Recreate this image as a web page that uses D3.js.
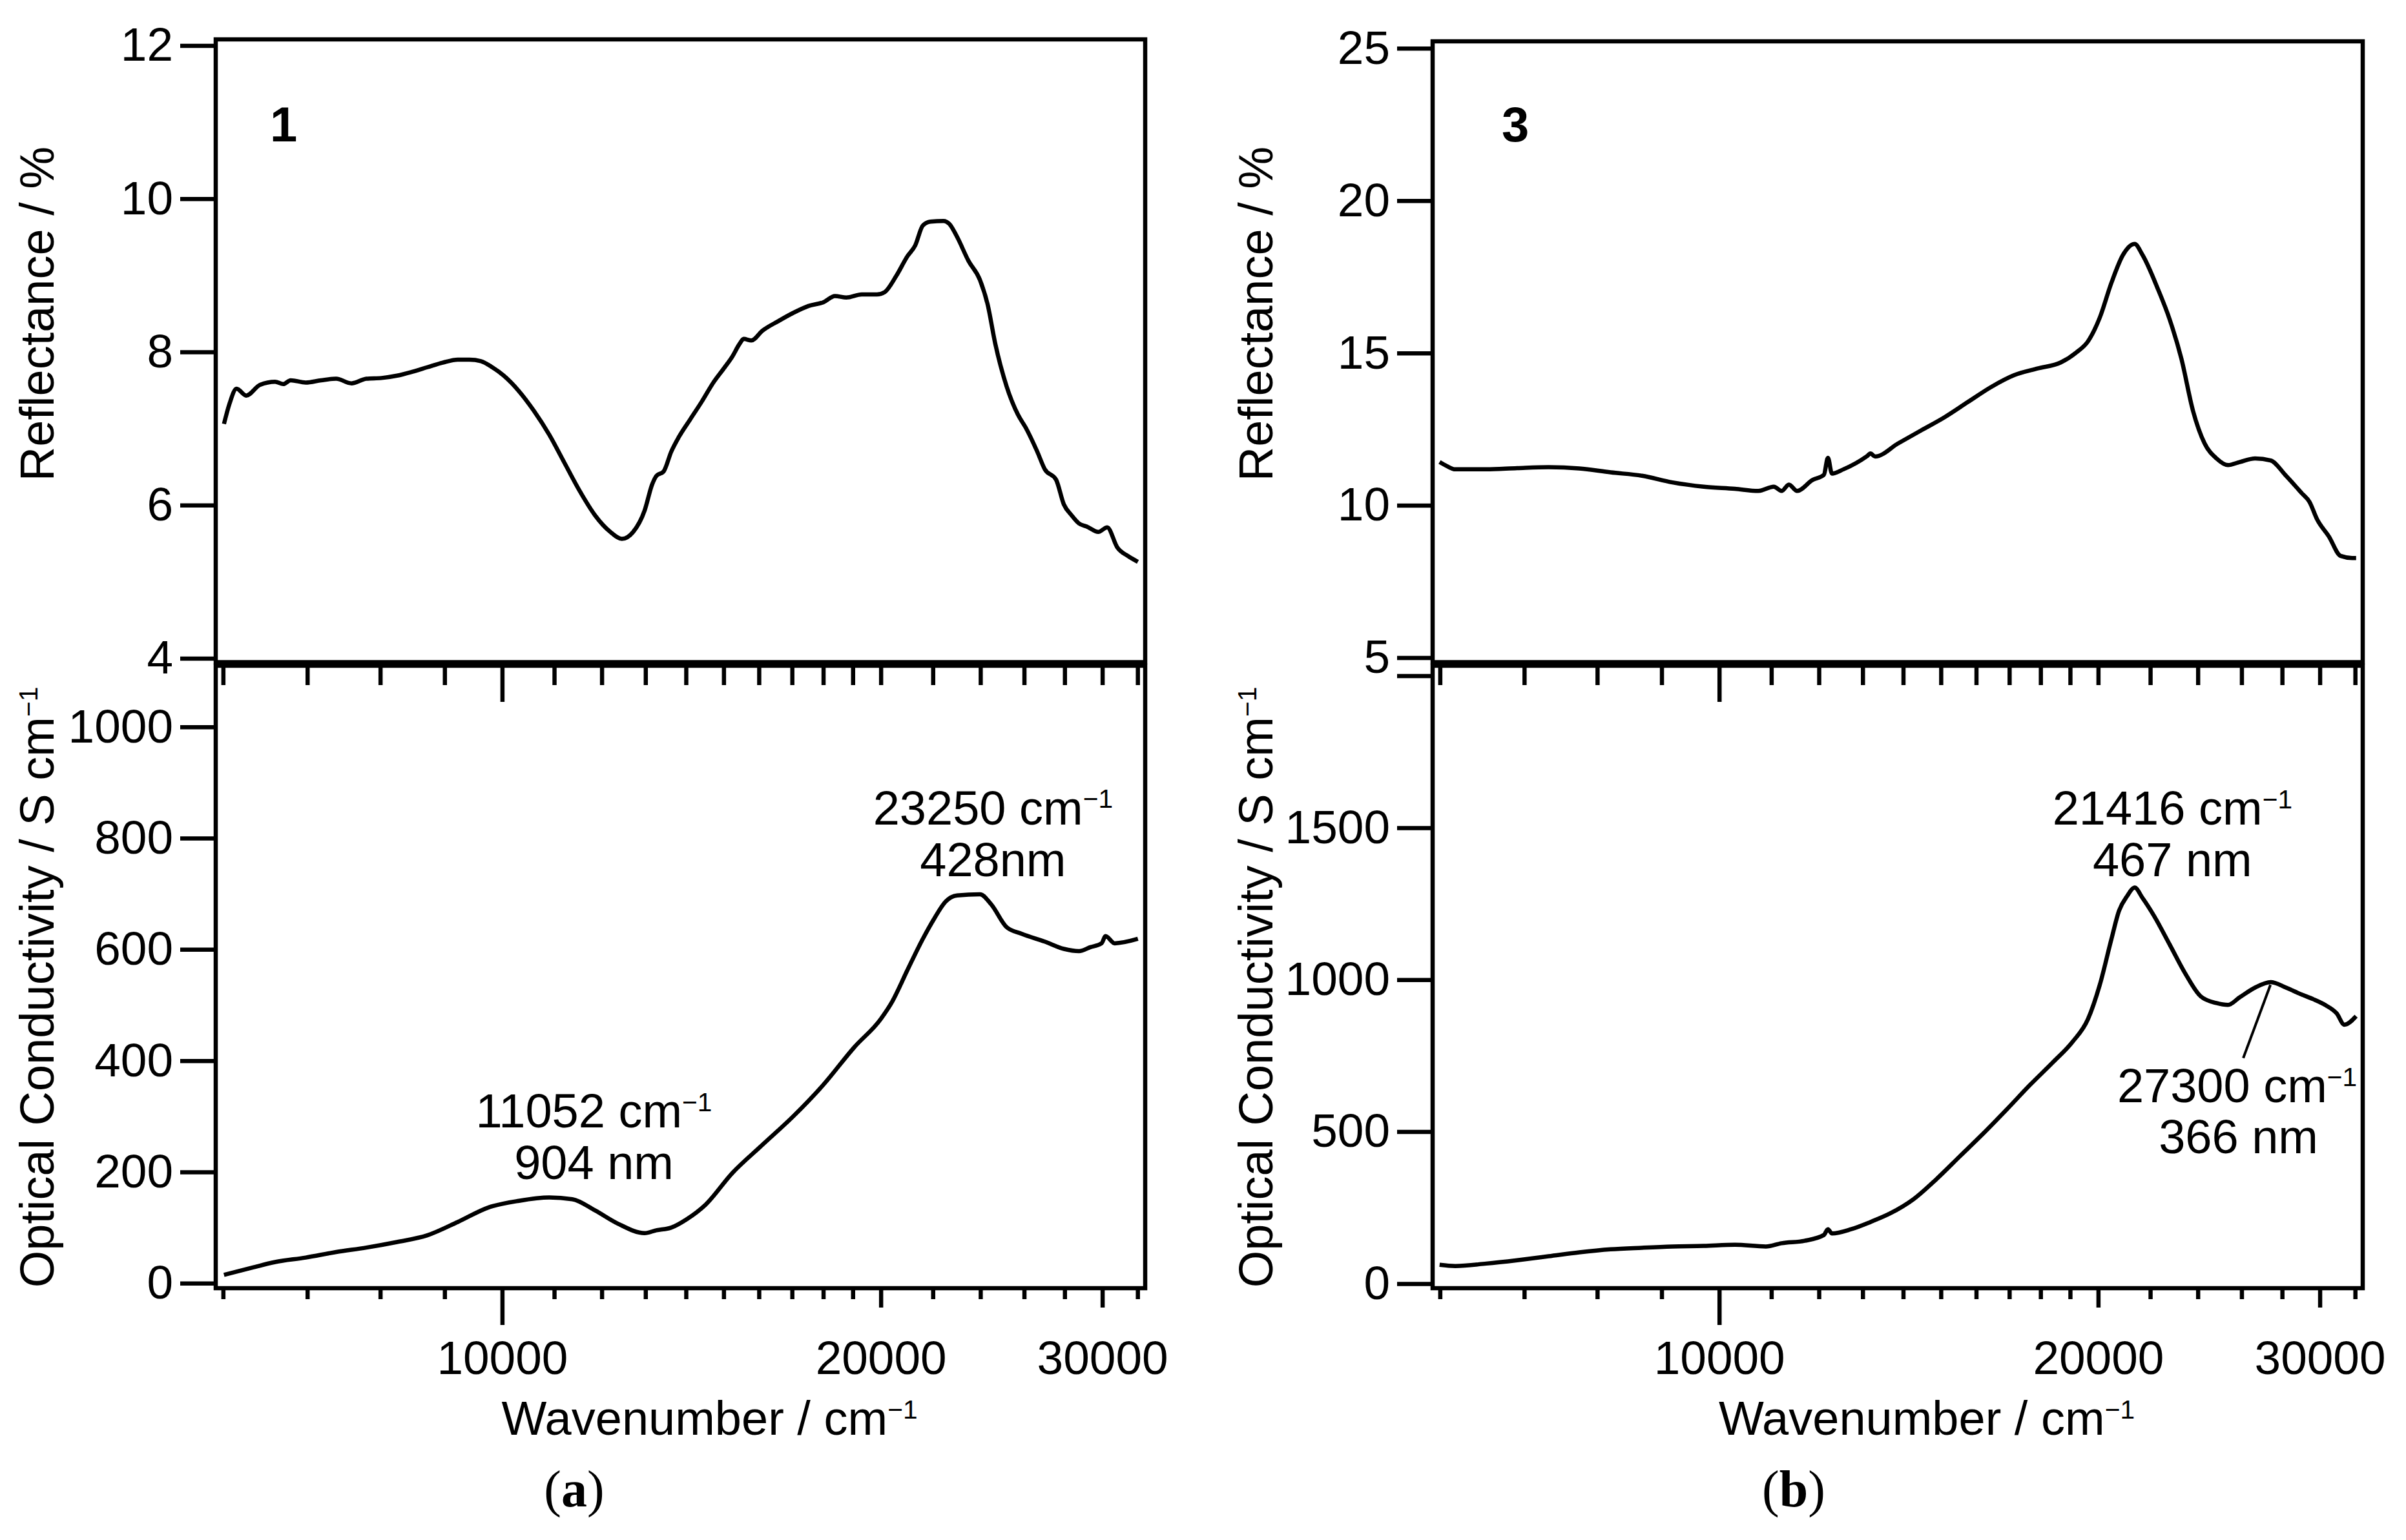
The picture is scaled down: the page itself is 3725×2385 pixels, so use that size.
<!DOCTYPE html>
<html>
<head>
<meta charset="utf-8">
<script src="https://cdn.jsdelivr.net/npm/d3@7"></script>
<style>
  body { margin: 0; background: #fff; }
  svg text { font-family: "Liberation Sans", Arial, Helvetica, sans-serif; fill: #000; }
</style>
</head>
<body>
<svg id="chart" width="3725" height="2385"></svg>
<script>
'use strict';

// compound 1 : reflectance (%)
const refl1Wn = [6010, 6070, 6150, 6260, 6420, 6600, 6700, 6790, 6980, 7180, 7380, 7590, 7800, 8020, 8250, 8480,
  8720, 8970, 9220, 9420, 9620, 9820, 10030, 10310, 10600, 10900, 11210, 11530, 11850, 12190, 12450, 12710,
  12980, 13160, 13260, 13440, 13630, 13820, 14110, 14410, 14720, 15030, 15240, 15450, 15560, 15780, 16110,
  16570, 17040, 17520, 18010, 18390, 18780, 19310, 19860, 20140, 20570, 21000, 21300, 21600, 21900, 22430,
  22680, 23000, 23480, 23980, 24320, 24660, 25180, 25710, 26080, 26630, 27000, 27570, 27960, 28350, 28750,
  29160, 29780, 30270, 30830, 31480, 32020];
const refl1 = [7.06, 7.32, 7.52, 7.43, 7.57, 7.61, 7.58, 7.63, 7.60, 7.63, 7.65, 7.59, 7.65, 7.66, 7.69, 7.74,
  7.80, 7.86, 7.90, 7.90, 7.88, 7.80, 7.69, 7.49, 7.23, 6.92, 6.55, 6.18, 5.87, 5.65, 5.56, 5.65,
  5.93, 6.27, 6.38, 6.44, 6.70, 6.89, 7.12, 7.35, 7.60, 7.80, 7.94, 8.11, 8.17, 8.15, 8.28,
  8.40, 8.51, 8.60, 8.65, 8.73, 8.71, 8.75, 8.75, 8.78, 8.99, 9.25, 9.39, 9.65, 9.70, 9.71,
  9.67, 9.50, 9.19, 8.94, 8.62, 8.11, 7.55, 7.18, 7.01, 6.70, 6.47, 6.33, 6.01, 5.87, 5.76,
  5.72, 5.65, 5.71, 5.45, 5.33, 5.26];

// compound 1 : optical conductivity (S cm-1)
const cond1Wn = [6010, 6330, 6600, 6980, 7380, 7800, 8250, 8720, 9220, 9750, 10310, 10900, 11370, 11850, 12360,
  12980, 13260, 13630, 14020, 14510, 15240, 16110, 17040, 18010, 19050, 20000, 20420, 21000, 21600, 22050,
  22520, 23000, 23980, 24480, 25180, 25890, 27000, 27960, 28750, 29350, 29960, 30180, 30690, 32020];
const cond1 = [15, 28, 38, 46, 56, 64, 74, 86, 110, 136, 148, 154, 151, 131, 107,
  90, 95, 100, 115, 141, 198, 249, 300, 357, 424, 475, 506, 563, 619, 655,
  686, 697, 699, 681, 640, 628, 614, 601, 597, 604, 611, 624, 611, 619];

// compound 3 : reflectance (%)
const refl3Wn = [5996, 6080, 6170, 6530, 6910, 7320, 7740, 8200, 8680, 9180, 9720, 10290, 10740, 11050, 11210,
  11360, 11530, 11860, 12110, 12200, 12290, 12550, 13100, 13190, 13300, 13870, 14470, 15100, 15760, 16440,
  17150, 17900, 18680, 19220, 19630, 20060, 20490, 20930, 21380, 21690, 22320, 22800, 23290, 23790, 24300,
  24830, 25360, 25910, 26650, 27420, 28200, 29020, 29440, 29850, 30500, 31160, 31830, 32060];
const refl3 = [11.42, 11.28, 11.18, 11.18, 11.22, 11.25, 11.21, 11.08, 10.97, 10.75, 10.61, 10.54, 10.47, 10.61, 10.47,
  10.68, 10.47, 10.83, 11.00, 11.56, 11.04, 11.18, 11.61, 11.70, 11.60, 12.03, 12.46, 12.89, 13.39, 13.88,
  14.27, 14.49, 14.69, 15.02, 15.38, 16.16, 17.30, 18.22, 18.58, 18.22, 17.08, 16.09, 14.81, 13.10, 12.03,
  11.54, 11.32, 11.42, 11.54, 11.47, 10.97, 10.40, 10.11, 9.54, 8.98, 8.34, 8.27, 8.27];

// compound 3 : optical conductivity (S cm-1)
const cond3Wn = [5996, 6170, 6530, 6910, 7320, 7740, 8200, 8680, 9180, 9720, 10290, 10890, 11210, 11690, 12110,
  12200, 12290, 12730, 13190, 13670, 14270, 14880, 15530, 16210, 16920, 17660, 18420, 19080, 19630, 20060,
  20490, 20780, 21080, 21380, 21690, 22160, 22800, 23450, 24130, 24830, 25360, 25910, 26650, 27420, 28200,
  29020, 29640, 30290, 30940, 31380, 32060];
const cond3 = [62, 58, 66, 77, 90, 103, 113, 118, 122, 124, 128, 122, 133, 141, 160,
  179, 165, 179, 203, 231, 278, 344, 419, 494, 573, 654, 729, 795, 870, 983,
  1133, 1227, 1274, 1303, 1269, 1209, 1115, 1021, 945, 923, 917, 942, 974, 992, 974,
  951, 936, 917, 889, 852, 880];

// axes
const xDomain = [5920, 32450];
const xMinorTicks = [6000, 7000, 8000, 9000, 11000, 12000, 13000, 14000, 15000, 16000, 17000, 18000, 19000,
  20000, 22000, 24000, 26000, 28000, 30000, 32000];
const xMajorTicks = [10000];
const xTickLabels = [10000, 20000, 30000];
const refl1Ticks = [4, 6, 8, 10, 12];
const cond1Ticks = [0, 200, 400, 600, 800, 1000];
const refl3Ticks = [5, 10, 15, 20, 25];
const cond3Ticks = [0, 500, 1000, 1500, 2000];
const cond3TickLabels = [0, 500, 1000, 1500];

// peak annotations: anchor in data units (wavenumber, conductivity)
const notes1 = [
  { wn: 11830, v: 280, text: "11052 cm", sup: "\u22121" },
  { wn: 11830, v: 187, text: "904 nm" },
  { wn: 24560, v: 825, text: "23250 cm", sup: "\u22121" },
  { wn: 24560, v: 732, text: "428nm" }
];
const notes3 = [
  { wn: 22910, v: 1511, text: "21416 cm", sup: "\u22121" },
  { wn: 22910, v: 1341, text: "467 nm" },
  { wn: 25790, v: 597, text: "27300 cm", sup: "\u22121" },
  { wn: 25850, v: 428, text: "366 nm" }
];
const leader3 = [[26080, 742], [27410, 983]];

const panels = [
  { left: 334, right: 1773, top: 61, mid: 1025.5, bottom: 1995, compound: "1", tag: "a",
    reflWn: refl1Wn, refl: refl1, condWn: cond1Wn, cond: cond1,
    reflDomain: [3.95, 12.08], condDomain: [-9, 1110],
    reflTicks: refl1Ticks, condTicks: cond1Ticks, condLabels: cond1Ticks,
    notes: notes1, leader: null, titleX: 83, numX: 418, tagX: 889 },
  { left: 2218, right: 3658, top: 64, mid: 1025.5, bottom: 1995, compound: "3", tag: "b",
    reflWn: refl3Wn, refl: refl3, condWn: cond3Wn, cond: cond3,
    reflDomain: [4.85, 25.23], condDomain: [-15, 2033],
    reflTicks: refl3Ticks, condTicks: cond3Ticks, condLabels: cond3TickLabels,
    notes: notes3, leader: leader3, titleX: 1970, numX: 2325, tagX: 2777 }
];

const svg = d3.select("#chart");
svg.append("rect").attr("width", 3725).attr("height", 2385).attr("fill", "#fff");

const LW = 6.5;
const FS = 73;

function styleAxis(g) {
  g.select(".domain").remove();
  g.selectAll(".tick line").attr("stroke", "#000").attr("stroke-width", LW);
  g.selectAll(".tick text").attr("font-size", FS).attr("fill", "#000")
    .style("font-family", '"Liberation Sans", Arial, sans-serif');
}

function supText(sel, main, sup, size) {
  sel.append("tspan").text(main);
  if (sup) {
    sel.append("tspan").attr("font-size", size * 0.55).attr("dy", -size * 0.34).text(sup);
  }
}

panels.forEach(p => {
  const botTop = p.mid + 5.5;
  const x = d3.scaleLog().domain(xDomain).range([p.left, p.right]);
  const yR = d3.scaleLinear().domain(p.reflDomain).range([p.mid, p.top]);
  const yC = d3.scaleLinear().domain(p.condDomain).range([p.bottom, botTop]);
  const g = svg.append("g");

  // y axes
  g.append("g").attr("transform", `translate(${p.left},0)`)
    .call(d3.axisLeft(yR).tickValues(p.reflTicks).tickSize(55).tickPadding(11).tickFormat(d3.format("d")))
    .call(styleAxis);
  g.append("g").attr("transform", `translate(${p.left},0)`)
    .call(d3.axisLeft(yC).tickValues(p.condTicks).tickSize(55).tickPadding(11)
      .tickFormat(d => p.condLabels.includes(d) ? d : ""))
    .call(styleAxis);

  // x axes (shared border and bottom)
  const xTicks = xMinorTicks.concat(xMajorTicks).sort((a, b) => a - b);
  g.append("g").attr("transform", `translate(0,${botTop})`)
    .call(d3.axisBottom(x).tickValues(xTicks).tickSize(30).tickFormat(""))
    .call(styleAxis)
    .selectAll(".tick line").filter(d => xMajorTicks.includes(d)).attr("y2", 56);
  g.append("g").attr("transform", `translate(0,${p.bottom})`)
    .call(d3.axisBottom(x).tickValues(xTicks).tickSize(17).tickPadding(64)
      .tickFormat(d => xTickLabels.includes(d) ? d : ""))
    .call(styleAxis)
    .selectAll(".tick line")
    .attr("y2", d => xMajorTicks.includes(d) ? 57 : (xTickLabels.includes(d) ? 30 : 17));

  // frames
  g.append("rect").attr("x", p.left).attr("y", p.top)
    .attr("width", p.right - p.left).attr("height", p.mid - p.top)
    .attr("fill", "none").attr("stroke", "#000").attr("stroke-width", LW);
  g.append("rect").attr("x", p.left).attr("y", botTop)
    .attr("width", p.right - p.left).attr("height", p.bottom - botTop)
    .attr("fill", "none").attr("stroke", "#000").attr("stroke-width", LW);

  // curves
  const lineR = d3.line().x((d, i) => x(p.reflWn[i])).y(d => yR(d)).curve(d3.curveMonotoneX);
  const lineC = d3.line().x((d, i) => x(p.condWn[i])).y(d => yC(d)).curve(d3.curveMonotoneX);
  g.append("path").datum(p.refl).attr("d", lineR)
    .attr("fill", "none").attr("stroke", "#000").attr("stroke-width", LW).attr("stroke-linejoin", "round");
  g.append("path").datum(p.cond).attr("d", lineC)
    .attr("fill", "none").attr("stroke", "#000").attr("stroke-width", LW).attr("stroke-linejoin", "round");

  // annotations
  p.notes.forEach(n => {
    const t = g.append("text").attr("x", x(n.wn)).attr("y", yC(n.v))
      .attr("text-anchor", "middle").attr("font-size", 74);
    supText(t, n.text, n.sup, 74);
  });
  if (p.leader) {
    g.append("line")
      .attr("x1", x(p.leader[0][0])).attr("y1", yC(p.leader[0][1]))
      .attr("x2", x(p.leader[1][0])).attr("y2", yC(p.leader[1][1]))
      .attr("stroke", "#000").attr("stroke-width", 4);
  }

  // compound number
  g.append("text").attr("x", p.numX).attr("y", 219)
    .attr("font-size", 76).attr("font-weight", "bold").text(p.compound);

  // axis titles
  const tR = g.append("text").attr("text-anchor", "middle").attr("font-size", 74)
    .attr("transform", `translate(${p.titleX},486) rotate(-90)`);
  supText(tR, "Reflectance / %", null, 74);
  const tC = g.append("text").attr("text-anchor", "middle").attr("font-size", 74)
    .attr("transform", `translate(${p.titleX},1529) rotate(-90)`);
  supText(tC, "Optical Conductivity / S cm", "\u22121", 74);
  const tX = g.append("text").attr("text-anchor", "middle").attr("font-size", 74)
    .attr("x", (p.left + p.right) / 2 + 45).attr("y", 2222);
  supText(tX, "Wavenumber / cm", "\u22121", 74);

  // sub-figure tag
  const tag = g.append("text").attr("x", p.tagX).attr("y", 2333).attr("text-anchor", "middle")
    .attr("font-size", 80).style("font-family", '"Liberation Serif", "Times New Roman", serif');
  tag.append("tspan").text("(");
  tag.append("tspan").attr("font-weight", "bold").text(p.tag);
  tag.append("tspan").text(")");
});
</script>
</body>
</html>
